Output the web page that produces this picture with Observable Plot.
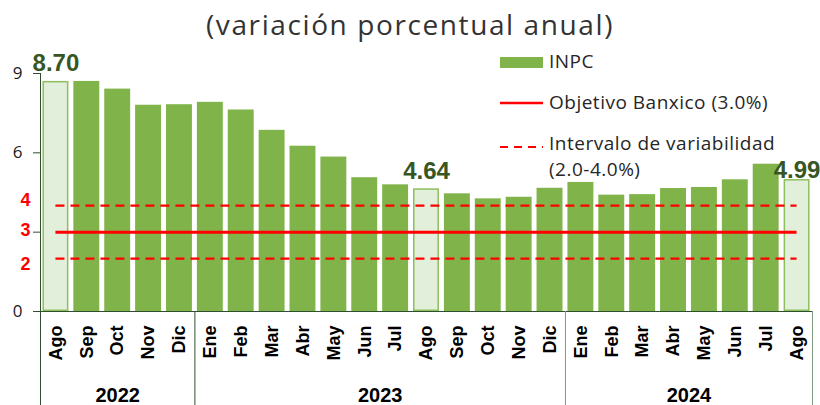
<!DOCTYPE html>
<html>
<head>
<meta charset="utf-8">
<script src="https://cdn.jsdelivr.net/npm/d3@7"></script>
<script src="https://cdn.jsdelivr.net/npm/@observablehq/plot@0.6"></script>
<style>
  html, body { margin: 0; padding: 0; background: #fff; }
  #wrap { position: relative; width: 820px; height: 405px; overflow: hidden; }
  #title { height: 45px; line-height: 48px; text-align: center; font-family: "Open Sans", sans-serif; font-size: 28px; letter-spacing: 1.6px; color: #333; }
  #legend { position: absolute; left: 500px; top: 48px; font-family: "Open Sans", sans-serif; font-size: 19px; letter-spacing: 0.5px; color: #262626; }
  .li { position: absolute; left: 0; white-space: nowrap; }
  .li svg { position: absolute; left: 0; }
  .li span { position: absolute; left: 49px; line-height: 22px; top: 2px; }
</style>
</head>
<body>
<div id="wrap">
  <div id="title">(variación porcentual anual)</div>
  <div id="chart"></div>
  <div id="legend"></div>
</div>
<script>
const months = ["Ago","Sep","Oct","Nov","Dic","Ene","Feb","Mar","Abr","May","Jun","Jul","Ago","Sep","Oct","Nov","Dic","Ene","Feb","Mar","Abr","May","Jun","Jul","Ago"];
const years = ["2022","2022","2022","2022","2022",
  "2023","2023","2023","2023","2023","2023","2023","2023","2023","2023","2023","2023",
  "2024","2024","2024","2024","2024","2024","2024","2024"];
const inpc = [8.70, 8.70, 8.41, 7.80, 7.82, 7.91, 7.62, 6.85, 6.25, 5.84, 5.06, 4.79, 4.64, 4.45, 4.26, 4.32, 4.66, 4.88, 4.40, 4.42, 4.65, 4.69, 4.98, 5.57, 4.99];
const highlighted = [0, 12, 24];
const objetivo = 3;
const intervalo = [2, 4];
const yTicks = [0, 3, 6, 9];
const yLabels = [0, 6, 9];
const redLabels = [2, 3, 4];
const legendItems = ["INPC", "Objetivo Banxico (3.0%)", "Intervalo de variabilidad", "(2.0-4.0%)"];

const GREEN = "#80b44a", LIGHT = "#e2efda", LIGHT_STROKE = "#8dbf5c", DARK = "#375623", RED = "#ff0000";

const data = inpc.map((v, i) => ({i, v, m: months[i], yr: years[i], hl: highlighted.includes(i)}));
const yearGroups = Array.from(d3.group(data, d => d.yr), ([yr, arr]) => ({yr, c: (arr[0].i + arr[arr.length - 1].i) / 2, first: arr[0].i}));
const last = data.length - 1;
const half = 0.42;

const redDy = {4: -5, 3: -2, 2: 6};
const hlDy = [-10, -10, -2];

const marks = [
  Plot.rectY(data.filter(d => !d.hl), {x1: d => d.i - half, x2: d => d.i + half, y: "v", fill: GREEN}),
  Plot.rectY(data.filter(d => d.hl), {x1: d => d.i - half, x2: d => d.i + half, y: "v", fill: LIGHT, stroke: LIGHT_STROKE, strokeWidth: 1.5, inset: 0.75}),
  Plot.ruleY([objetivo], {x1: 0, x2: last, stroke: RED, strokeWidth: 3}),
  Plot.ruleY(intervalo, {x1: 0, x2: last, stroke: RED, strokeWidth: 2.3, strokeDasharray: "9,6"}),
  Plot.ruleY([0], {x1: -0.5, x2: last + 0.5, stroke: "#2f4f2f", strokeWidth: 1}),
  Plot.ruleX([-0.5], {y1: 9, y2: -3.7, stroke: "#2f4f2f", strokeWidth: 1}),
  Plot.ruleX(yearGroups.filter(g => g.first > 0).slice(0, 1), {x: g => g.first - 0.5, y1: 0, y2: -3.7, stroke: "#2f4f2f", strokeWidth: 1}),
  Plot.ruleX(yearGroups.filter(g => g.first > 0).slice(1), {x: g => g.first - 0.5, y1: 0, y2: -3.7, stroke: "#7d9a7d", strokeWidth: 1}),
  Plot.ruleX([last + 0.5], {y1: 0, y2: -3.7, stroke: "#7d9a7d", strokeWidth: 1}),
  Plot.axisY({ticks: yTicks, tickFormat: d => yLabels.includes(d) ? String(d) : "", label: null, tickSize: 7, tickPadding: 11, fontSize: 17, stroke: "#2f4f2f", fill: "#1a1a1a", fontFamily: "Open Sans"}),
  Plot.axisX({ticks: d3.range(months.length), tickFormat: i => months[i], label: null, tickRotate: -90, tickSize: 0, tickPadding: 14, fontSize: 18, fontWeight: "bold", fill: "#000"}),
  ...redLabels.map(r => Plot.text([r], {y: d => d, text: d => String(d), frameAnchor: "left", dx: -20, dy: redDy[r], fill: RED, fontWeight: "bold", fontSize: 18})),
  ...data.filter(d => d.hl).map((d, k) => Plot.text([d], {x: "i", y: "v", text: e => e.v.toFixed(2), lineAnchor: "bottom", dy: hlDy[k], fontSize: 24, fontWeight: "bold", fill: DARK})),
  Plot.text(yearGroups, {x: "c", text: "yr", frameAnchor: "bottom", dy: 90, lineAnchor: "bottom", fontSize: 20, fontWeight: "bold", fill: "#000", style: "letter-spacing:0.8px"})
];

const chart = Plot.plot({
  width: 820,
  height: 360,
  marginLeft: 40,
  marginRight: 8,
  marginTop: 28,
  marginBottom: 94,
  x: {type: "linear", domain: [-0.5, last + 0.5]},
  y: {domain: [0, 9]},
  style: {fontFamily: "Liberation Sans, Arial, sans-serif", background: "#fff", overflow: "visible"},
  marks
});
document.getElementById("chart").appendChild(chart);

// legend
const lg = document.getElementById("legend");
const sw = [
  {top: 0, svg: '<rect x="0" y="9" width="43" height="11" fill="' + GREEN + '"/>', text: legendItems[0]},
  {top: 41, svg: '<line x1="0" x2="43" y1="14" y2="14" stroke="' + RED + '" stroke-width="2.5"/>', text: legendItems[1]},
  {top: 82, svg: '<line x1="0" x2="43" y1="17" y2="17" stroke="' + RED + '" stroke-width="2" stroke-dasharray="8,6"/>', text: legendItems[2]},
  {top: 108, svg: '', text: legendItems[3]}
];
sw.forEach(s => {
  const d = document.createElement("div");
  d.className = "li";
  d.style.top = s.top + "px";
  d.innerHTML = (s.svg ? '<svg width="44" height="28">' + s.svg + '</svg>' : '') + '<span>' + s.text + '</span>';
  lg.appendChild(d);
});
</script>
</body>
</html>
